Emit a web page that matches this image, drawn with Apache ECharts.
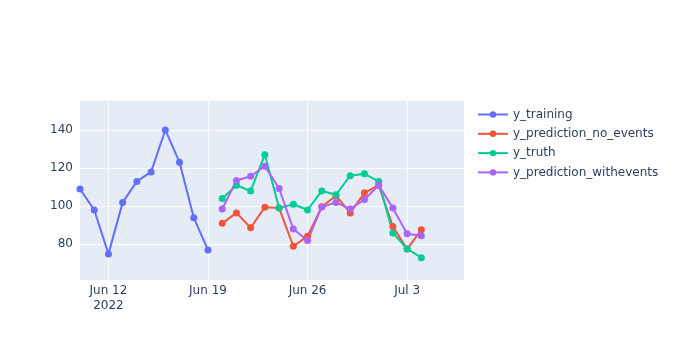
<!DOCTYPE html>
<html><head><meta charset="utf-8">
<script src="https://cdn.jsdelivr.net/npm/echarts@6/dist/echarts.min.js"></script>
<style>html,body{margin:0;padding:0;background:#fff}#c{width:676px;height:360px}</style>
</head><body><div id="c"></div>
<script>
const categories = ['2022-06-10','2022-06-11','2022-06-12','2022-06-13','2022-06-14','2022-06-15','2022-06-16','2022-06-17','2022-06-18','2022-06-19','2022-06-20','2022-06-21','2022-06-22','2022-06-23','2022-06-24','2022-06-25','2022-06-26','2022-06-27','2022-06-28','2022-06-29','2022-06-30','2022-07-01','2022-07-02','2022-07-03','2022-07-04','2022-07-05','2022-07-06','2022-07-07'];
const tickLabels = {'2022-06-12':'Jun 12\n2022','2022-06-19':'Jun 19','2022-06-26':'Jun 26','2022-07-03':'Jul 3'};
const trainDates = ['2022-06-10','2022-06-11','2022-06-12','2022-06-13','2022-06-14','2022-06-15','2022-06-16','2022-06-17','2022-06-18','2022-06-19'];
const yTraining = [109, 98, 75, 102, 113, 118, 140, 123, 94, 77];
const predDates = ['2022-06-20','2022-06-21','2022-06-22','2022-06-23','2022-06-24','2022-06-25','2022-06-26','2022-06-27','2022-06-28','2022-06-29','2022-06-30','2022-07-01','2022-07-02','2022-07-03','2022-07-04'];
const yPredNoEvents = [91, 96.5, 88.7, 99.5, 99, 79, 84.3, 99.7, 105.5, 96.5, 107, 111, 89.3, 77.5, 87.6];
const yTruth = [104, 111, 108, 127, 99, 101, 98, 108, 106, 116, 117, 113, 86, 77.6, 73];
const yPredWithEvents = [98.5, 113.5, 115.7, 121, 109.3, 88, 82, 99.6, 102, 98.5, 103.5, 111, 99, 85.5, 84.5];
const seriesNames = ['y_training','y_prediction_no_events','y_truth','y_prediction_withevents'];
const colors = ['#636efa','#EF553B','#00cc96','#ab63fa'];

const pair = (d, v) => d.map((x, i) => [x, v[i]]);
const font = '"DejaVu Sans", Verdana, sans-serif';
const mk = (name, data, color) => ({
  name, type: 'line', data, symbol: 'circle', symbolSize: 7, showSymbol: true,
  itemStyle: { color }, lineStyle: { color, width: 2 }, emphasis: { disabled: true }
});
const chart = echarts.init(document.getElementById('c'), null, { renderer: 'canvas' });
chart.setOption({
  animation: false,
  textStyle: { fontFamily: font },
  grid: { left: 80, right: 212, top: 100, bottom: 80, show: true, backgroundColor: '#E5ECF6', borderWidth: 0 },
  legend: {
    orient: 'vertical', left: 477, top: 106, padding: 0, itemGap: 2.3, itemWidth: 30, itemHeight: 8,
    textStyle: { color: '#2a3f5f', fontSize: 12, fontFamily: font, lineHeight: 17 },
    data: seriesNames
  },
  xAxis: {
    type: 'category', data: categories, boundaryGap: false,
    axisLine: { show: false }, axisTick: { show: false },
    axisLabel: {
      interval: (i, v) => tickLabels[v] !== undefined,
      formatter: v => tickLabels[v] || '', color: '#2a3f5f', fontSize: 12, margin: 3, lineHeight: 15, fontFamily: font
    },
    splitLine: { show: true, interval: (i, v) => tickLabels[v] !== undefined, lineStyle: { color: '#ffffff', width: 1 } }
  },
  yAxis: {
    type: 'value', min: 61.3, max: 155.7, splitNumber: 5,
    axisLine: { show: false }, axisTick: { show: false },
    axisLabel: { color: '#2a3f5f', fontSize: 12, margin: 7, showMinLabel: false, showMaxLabel: false, fontFamily: font,
      formatter: v => (Math.abs(v % 20) < 1e-6 ? String(v) : '') },
    splitLine: { lineStyle: { color: '#ffffff', width: 1 } }
  },
  series: [
    mk(seriesNames[0], pair(trainDates, yTraining), colors[0]),
    mk(seriesNames[1], pair(predDates, yPredNoEvents), colors[1]),
    mk(seriesNames[2], pair(predDates, yTruth), colors[2]),
    mk(seriesNames[3], pair(predDates, yPredWithEvents), colors[3])
  ]
});
</script></body></html>
